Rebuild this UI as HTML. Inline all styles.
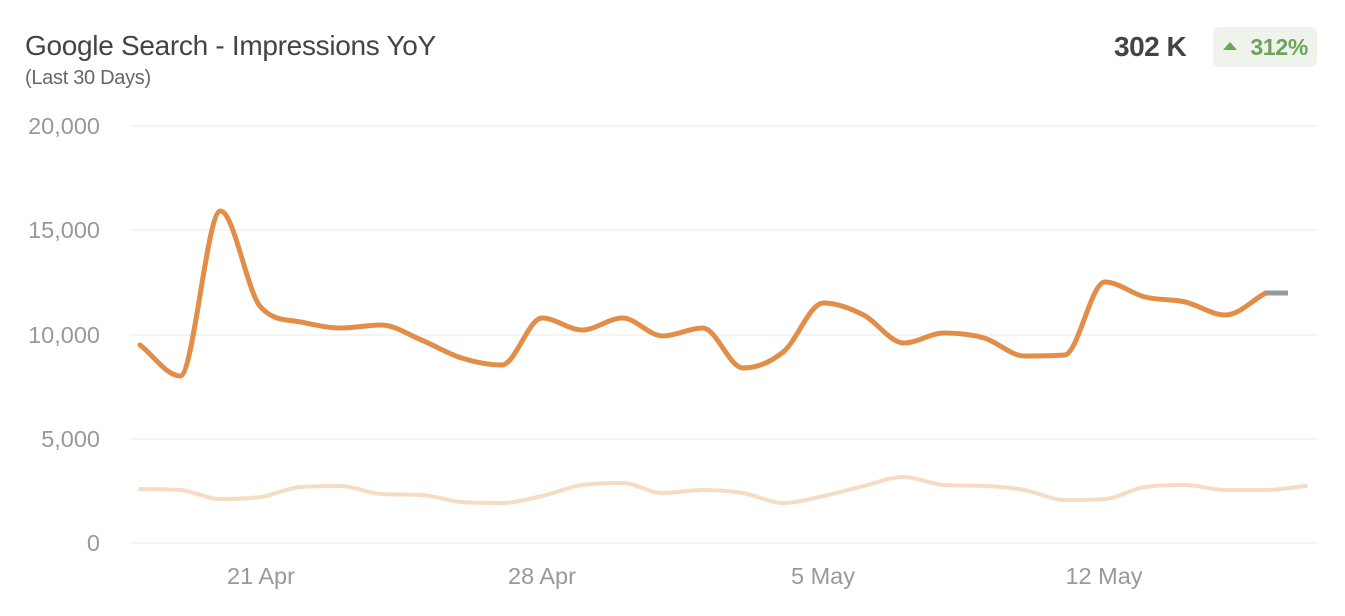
<!DOCTYPE html>
<html><head><meta charset="utf-8"><style>
body{margin:0;background:#fff;width:1345px;height:616px;overflow:hidden;font-family:"Liberation Sans",sans-serif;}
.t{position:absolute;left:25px;top:30px;font-size:28px;color:#444;letter-spacing:-0.3px;}
.s{position:absolute;left:25px;top:67px;font-size:20px;color:#666;letter-spacing:-0.3px;}
.v{position:absolute;left:1114px;top:31px;font-size:28px;font-weight:bold;color:#444;letter-spacing:-0.5px;}
.b{position:absolute;left:1213px;top:27px;width:104px;height:40px;background:#eef3ec;border-radius:6px;color:#6aa55a;font-size:23px;font-weight:bold;line-height:40px;text-align:right;box-sizing:border-box;padding-right:9px;letter-spacing:-0.3px;}
.b:before{content:"";position:absolute;left:10px;top:15px;border-left:7px solid transparent;border-right:7px solid transparent;border-bottom:8px solid #6aa55a;}
</style></head><body>
<div class="t">Google Search - Impressions YoY</div>
<div class="s">(Last 30 Days)</div>
<div class="v">302 K</div>
<div class="b">312%</div>
<svg width="1345" height="616" style="position:absolute;left:0;top:0" id="c">
<g stroke="#f0f0f0" stroke-width="1.5">
<line x1="130" x2="1318" y1="126" y2="126"/><line x1="130" x2="1318" y1="230" y2="230"/><line x1="130" x2="1318" y1="335" y2="335"/><line x1="130" x2="1318" y1="439" y2="439"/><line x1="130" x2="1318" y1="543" y2="543"/>
</g>
<g font-size="23.5" fill="#999" text-anchor="end">
<text x="100" y="134">20,000</text><text x="100" y="238">15,000</text><text x="100" y="343">10,000</text><text x="100" y="447">5,000</text><text x="100" y="551">0</text>
</g>
<g font-size="23.5" fill="#999" text-anchor="middle">
<text x="261" y="584">21 Apr</text><text x="542" y="584">28 Apr</text><text x="823" y="584">5 May</text><text x="1104" y="584">12 May</text>
</g>
<path id="lt" fill="none" stroke="#f6dcc4" stroke-width="4" stroke-linecap="round"/>
<path id="or" fill="none" stroke="#e28e48" stroke-width="5" stroke-linecap="round" stroke-linejoin="round"/>
<line x1="1265" y1="293" x2="1288" y2="293" stroke="#999" stroke-width="5"/>
</svg>
<script>
function mono(xs,ys){var n=xs.length,d=[],m=[];for(var i=0;i<n-1;i++)d.push((ys[i+1]-ys[i])/(xs[i+1]-xs[i]));
m[0]=d[0];m[n-1]=d[n-2];for(i=1;i<n-1;i++){m[i]=(d[i-1]*d[i]<=0)?0:(d[i-1]+d[i])/2;}
for(i=0;i<n-1;i++){if(d[i]==0){m[i]=0;m[i+1]=0;continue;}var a=m[i]/d[i],b=m[i+1]/d[i],s=a*a+b*b;if(s>9){var t=3/Math.sqrt(s);m[i]=t*a*d[i];m[i+1]=t*b*d[i];}}
var p="M"+xs[0]+","+ys[0];for(i=0;i<n-1;i++){var h=(xs[i+1]-xs[i])/3;p+="C"+(xs[i]+h)+","+(ys[i]+m[i]*h)+" "+(xs[i+1]-h)+","+(ys[i+1]-m[i+1]*h)+" "+xs[i+1]+","+ys[i+1];}return p;}
var X=[];for(var i=0;i<30;i++)X.push(140+i*40.2);
var O=[345,376,211,307,322,328,325,340,358,365,318,330,318,336,328,368,352,303,315,343,333,338,356,355,282,297,302,315,293];
var L=[489,490,499,497,487,486,494,495,502,503,496,485,483,493,490,493,503,496,486,477,485,486,490,500,499,487,485,490,490,486];
document.getElementById('or').setAttribute('d',mono(X.slice(0,29),O));
document.getElementById('lt').setAttribute('d',mono(X,L));
</script>
</body></html>
